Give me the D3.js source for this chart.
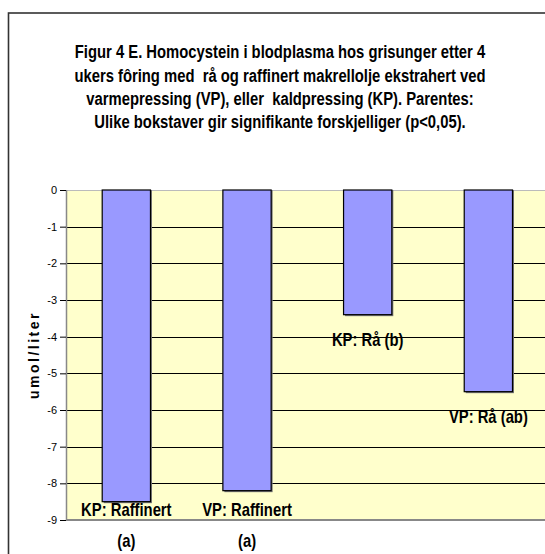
<!DOCTYPE html>
<html lang="no">
<head>
    <meta charset="UTF-8">
    <title>Figur 4 E. Homocystein</title>
    <style>
        body { margin: 0; background: #fff; }
        svg text {
            font-family: "Liberation Sans", Arial, sans-serif;
        }
        .narrow {
            font-weight: bold;
        }
        .tick text {
            font-size: 11px;
            fill: #000;
        }
        .tick line { stroke: #000; }
    </style>
</head>
<body>
    <svg width="545" height="554"></svg>

    <script src="https://cdnjs.cloudflare.com/ajax/libs/d3/7.8.5/d3.min.js"></script>
    <script>

        // Data
        const categories = ['KP: Raffinert', 'VP: Raffinert', 'KP: Rå', 'VP: Rå'];
        const values = [-8.5, -8.2, -3.4, -5.5];
        const barLabels = [
            ['KP: Raffinert', '(a)'],
            ['VP: Raffinert', '(a)'],
            ['KP: Rå (b)'],
            ['VP: Rå (ab)']
        ];
        const yTicks = [0, -1, -2, -3, -4, -5, -6, -7, -8, -9];
        const titleLines = [
            'Figur 4 E. Homocystein i blodplasma hos grisunger etter 4',
            'ukers fôring med  rå og raffinert makrellolje ekstrahert ved',
            'varmepressing (VP), eller  kaldpressing (KP). Parentes:',
            'Ulike bokstaver gir signifikante forskjelliger (p<0,05).'
        ];
        const yLabel = 'umol/liter';

        // Arial Narrow is not installed: squeeze Liberation Sans to about its width
        const titleScale = 0.78;
        const labelScale = 0.8;

        const svg = d3.select('svg');

        const plot = { left: 66, top: 190, right: 548.7, bottom: 520 };

        // outer chart frame
        svg.append('rect')
            .attr('x', 8.5)
            .attr('y', 13)
            .attr('width', 560)
            .attr('height', 560)
            .attr('fill', '#fff')
            .attr('stroke', '#333')
            .attr('stroke-width', 1.6);

        // title
        svg.append('g')
            .attr('transform', 'translate(280,0) scale(' + titleScale + ',1)')
            .append('text')
            .attr('class', 'narrow')
            .attr('text-anchor', 'middle')
            .attr('font-size', 19)
            .attr('fill', '#000')
            .style('white-space', 'pre')
            .selectAll('tspan')
            .data(titleLines)
            .enter()
            .append('tspan')
            .attr('x', 0)
            .attr('y', function (d, i) { return 58.5 + i * 23.3; })
            .text(function (d) { return d; });

        const x = d3.scaleBand()
            .domain(categories)
            .range([plot.left, plot.right])
            .paddingInner(0.6)
            .paddingOuter(0.3);

        const y = d3.scaleLinear()
            .domain([-9, 0])
            .range([plot.bottom, plot.top]);

        // plot area background
        svg.append('rect')
            .attr('x', plot.left)
            .attr('y', plot.top)
            .attr('width', plot.right - plot.left)
            .attr('height', plot.bottom - plot.top)
            .attr('fill', '#ffffcc');

        // gridlines
        svg.append('g')
            .selectAll('line')
            .data(yTicks.filter(function (d) { return d < 0 && d > -9; }))
            .enter()
            .append('line')
            .attr('x1', plot.left)
            .attr('x2', plot.right)
            .attr('y1', function (d) { return Math.round(y(d)) + 0.5; })
            .attr('y2', function (d) { return Math.round(y(d)) + 0.5; })
            .attr('stroke', '#000')
            .attr('stroke-width', 1);

        // plot border
        svg.append('line')
            .attr('x1', plot.left).attr('x2', plot.right)
            .attr('y1', plot.top + 0.5).attr('y2', plot.top + 0.5)
            .attr('stroke', '#bbb');
        svg.append('line')
            .attr('x1', plot.left).attr('x2', plot.right)
            .attr('y1', plot.bottom).attr('y2', plot.bottom)
            .attr('stroke', '#888').attr('stroke-width', 2);
        svg.append('line')
            .attr('x1', plot.left + 0.5).attr('x2', plot.left + 0.5)
            .attr('y1', plot.top).attr('y2', plot.bottom)
            .attr('stroke', '#888').attr('stroke-width', 1.5);

        // bar shadows then bars
        svg.append('g')
            .selectAll('rect')
            .data(values)
            .enter()
            .append('rect')
            .attr('x', function (d, i) { return x(categories[i]) + 1.5; })
            .attr('y', y(0))
            .attr('width', x.bandwidth())
            .attr('height', function (d) { return y(d) - y(0) + 1.5; })
            .attr('fill', '#777');

        svg.append('g')
            .selectAll('rect')
            .data(values)
            .enter()
            .append('rect')
            .attr('x', function (d, i) { return x(categories[i]); })
            .attr('y', y(0))
            .attr('width', x.bandwidth())
            .attr('height', function (d) { return y(d) - y(0); })
            .attr('fill', '#9999ff')
            .attr('stroke', '#000')
            .attr('stroke-width', 1.2);

        // y axis
        const yAxis = d3.axisLeft(y)
            .tickValues(yTicks)
            .tickFormat(function (d) { return d === 0 ? '0' : '-' + Math.abs(d); })
            .tickSize(6)
            .tickPadding(3);

        svg.append('g')
            .attr('transform', 'translate(' + plot.left + ',0)')
            .call(yAxis)
            .call(function (g) { g.select('.domain').remove(); });

        // y axis title
        svg.append('text')
            .attr('transform', 'translate(39,' + ((plot.top + plot.bottom) / 2) + ') rotate(-90)')
            .attr('text-anchor', 'middle')
            .attr('font-weight', 'bold')
            .attr('font-size', 14)
            .attr('letter-spacing', 2.5)
            .text(yLabel);

        // bar labels under each bar
        const labelG = svg.append('g');
        barLabels.forEach(function (lines, i) {
            const base = Math.min(y(values[i]) + 31, plot.bottom - 4);
            const cx = x(categories[i]) + x.bandwidth() / 2;
            labelG.append('g')
                .attr('transform', 'translate(' + cx + ',0) scale(' + labelScale + ',1)')
                .append('text')
                .attr('class', 'narrow')
                .attr('text-anchor', 'middle')
                .attr('font-size', 18.5)
                .selectAll('tspan')
                .data(lines)
                .enter()
                .append('tspan')
                .attr('x', 0)
                .attr('y', function (d, j) { return base + j * 31; })
                .text(function (d) { return d; });
        });

    </script>
</body>
</html>
